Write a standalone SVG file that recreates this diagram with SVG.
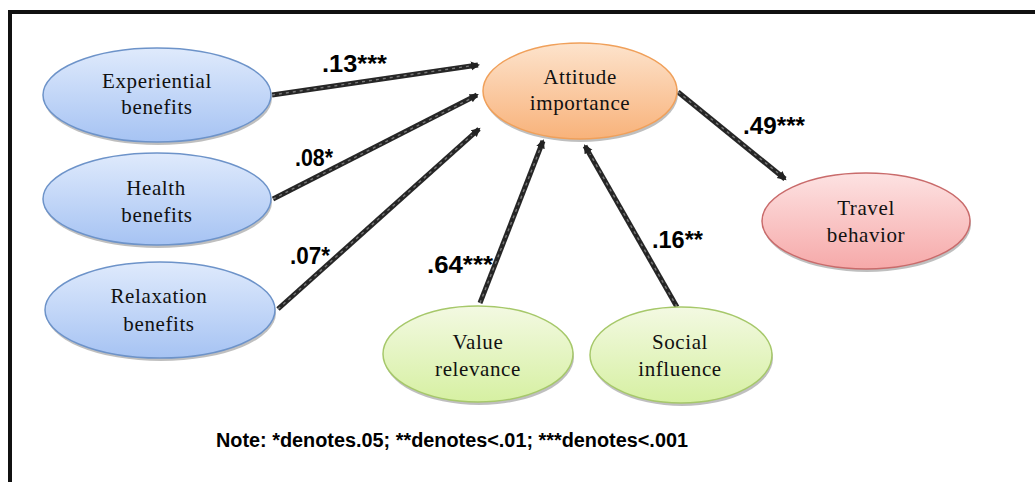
<svg xmlns="http://www.w3.org/2000/svg" width="1035" height="482" viewBox="0 0 1035 482">
<defs>
<linearGradient id="gBlue" x1="0" y1="0" x2="0" y2="1"><stop offset="0" stop-color="#dfeafc"/><stop offset="1" stop-color="#a6c3f3"/></linearGradient>
<linearGradient id="gOrange" x1="0" y1="0" x2="0" y2="1"><stop offset="0" stop-color="#fde3cc"/><stop offset="1" stop-color="#f8b27a"/></linearGradient>
<linearGradient id="gRed" x1="0" y1="0" x2="0" y2="1"><stop offset="0" stop-color="#fde2e2"/><stop offset="1" stop-color="#f6a9a9"/></linearGradient>
<linearGradient id="gGreen" x1="0" y1="0" x2="0" y2="1"><stop offset="0" stop-color="#f3f9e2"/><stop offset="1" stop-color="#d6f0a2"/></linearGradient>
<marker id="arr" markerWidth="10" markerHeight="10" refX="7" refY="5" orient="auto" markerUnits="userSpaceOnUse"><path d="M0,0.5 L9,5 L0,9.5 z" fill="#222"/></marker>
</defs>
<style>
.shadow{fill:#8a8a8a;opacity:0.55}
.blue{fill:url(#gBlue);stroke:#6d93c9;stroke-width:1.5}
.orange{fill:url(#gOrange);stroke:#f0a05a;stroke-width:1.5}
.red{fill:url(#gRed);stroke:#c96b6b;stroke-width:1.5}
.green{fill:url(#gGreen);stroke:#a6c86a;stroke-width:1.5}
.lbl{font-family:"Liberation Serif","Times New Roman",serif;font-size:21px;letter-spacing:0.6px;fill:#111;text-anchor:middle}
.conn{stroke:#262626;stroke-width:5;fill:none}
.tex{stroke:#777;stroke-width:1.4;stroke-dasharray:3 4;fill:none}
.coef{font-family:"Liberation Sans",Arial,sans-serif;font-weight:bold;font-size:23px;fill:#000}
.note{font-family:"Liberation Sans",Arial,sans-serif;font-weight:bold;font-size:20px;fill:#000}
</style>
<rect x="0" y="0" width="1035" height="482" fill="#fff"/>
<rect x="10" y="12" width="1060" height="500" fill="none" stroke="#111" stroke-width="4"/>
<g id="connectors">
<line class="conn" x1="272" y1="95" x2="478" y2="65" marker-end="url(#arr)"/>
<line class="tex" x1="272" y1="95" x2="470" y2="66"/>
<line class="conn" x1="273" y1="199" x2="477" y2="95" marker-end="url(#arr)"/>
<line class="tex" x1="273" y1="199" x2="470" y2="99"/>
<line class="conn" x1="278" y1="309" x2="479" y2="129" marker-end="url(#arr)"/>
<line class="tex" x1="278" y1="309" x2="472" y2="135"/>
<line class="conn" x1="480" y1="303" x2="543" y2="141" marker-end="url(#arr)"/>
<line class="tex" x1="480" y1="303" x2="540" y2="149"/>
<line class="conn" x1="677" y1="307" x2="585" y2="146" marker-end="url(#arr)"/>
<line class="tex" x1="677" y1="307" x2="590" y2="154"/>
<line class="conn" x1="678" y1="92" x2="785" y2="179" marker-end="url(#arr)"/>
<line class="tex" x1="678" y1="92" x2="778" y2="173"/>
</g>
<g id="coefficients">
<text class="coef" x="322" y="72" textLength="65" lengthAdjust="spacingAndGlyphs">.13***</text>
<text class="coef" x="295" y="166" textLength="38" lengthAdjust="spacingAndGlyphs">.08*</text>
<text class="coef" x="290" y="264" textLength="40" lengthAdjust="spacingAndGlyphs">.07*</text>
<text class="coef" x="427" y="273" textLength="66" lengthAdjust="spacingAndGlyphs">.64***</text>
<text class="coef" x="652" y="248" textLength="51" lengthAdjust="spacingAndGlyphs">.16**</text>
<text class="coef" x="743" y="134" textLength="62" lengthAdjust="spacingAndGlyphs">.49***</text>
</g>
<g id="node-experiential">
<ellipse class="shadow" cx="158" cy="98" rx="114" ry="47"/>
<ellipse class="blue" cx="157" cy="95" rx="114" ry="47"/>
<text class="lbl" x="157" y="88">Experiential</text>
<text class="lbl" x="157" y="114">benefits</text>
</g>
<g id="node-health">
<ellipse class="shadow" cx="158" cy="202" rx="114" ry="46"/>
<ellipse class="blue" cx="157" cy="199" rx="114" ry="46"/>
<text class="lbl" x="156" y="195">Health</text>
<text class="lbl" x="157" y="222">benefits</text>
</g>
<g id="node-relaxation">
<ellipse class="shadow" cx="161" cy="313" rx="115" ry="48"/>
<ellipse class="blue" cx="160" cy="310" rx="115" ry="48"/>
<text class="lbl" x="159" y="303">Relaxation</text>
<text class="lbl" x="159" y="331">benefits</text>
</g>
<g id="node-attitude">
<ellipse class="shadow" cx="581" cy="94" rx="97" ry="48"/>
<ellipse class="orange" cx="580" cy="91" rx="97" ry="48"/>
<text class="lbl" x="580" y="84">Attitude</text>
<text class="lbl" x="580" y="110">importance</text>
</g>
<g id="node-travel">
<ellipse class="shadow" cx="867" cy="224" rx="104" ry="48"/>
<ellipse class="red" cx="866" cy="221" rx="104" ry="48"/>
<text class="lbl" x="866" y="215">Travel</text>
<text class="lbl" x="866" y="242">behavior</text>
</g>
<g id="node-value">
<ellipse class="shadow" cx="479" cy="357" rx="95" ry="48"/>
<ellipse class="green" cx="478" cy="354" rx="95" ry="48"/>
<text class="lbl" x="478" y="349">Value</text>
<text class="lbl" x="478" y="376">relevance</text>
</g>
<g id="node-social">
<ellipse class="shadow" cx="682" cy="358" rx="91" ry="48"/>
<ellipse class="green" cx="681" cy="355" rx="91" ry="48"/>
<text class="lbl" x="680" y="349">Social</text>
<text class="lbl" x="680" y="376">influence</text>
</g>
<text class="note" x="216" y="447" textLength="472" lengthAdjust="spacingAndGlyphs">Note: *denotes.05; **denotes&lt;.01; ***denotes&lt;.001</text>
</svg>
